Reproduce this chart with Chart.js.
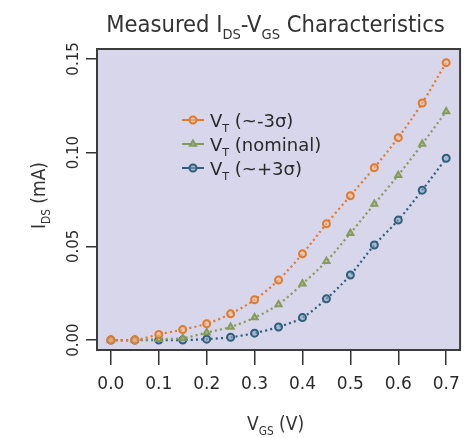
<!DOCTYPE html>
<html>
<head>
<meta charset="utf-8">
<script src="https://cdn.jsdelivr.net/npm/chart.js@4"></script>
<style>
  body { margin: 0; background: #fff; }
  #wrap { width: 469px; height: 438px; }
</style>
</head>
<body>
<div id="wrap"><canvas id="ivChart" width="469" height="438"></canvas></div>
<script>
// gate voltage sweep (V)
var vgs = [0.00, 0.05, 0.10, 0.15, 0.20, 0.25, 0.30, 0.35, 0.40, 0.45, 0.50, 0.55, 0.60, 0.65, 0.70];
// drain current (mA) for the three threshold corners
var idsMinus3s = [0.000, 0.000, 0.003, 0.0056, 0.0087, 0.014, 0.0215, 0.032, 0.046, 0.062, 0.077, 0.092, 0.108, 0.1265, 0.148];
var idsNominal = [0.000, 0.000, 0.0005, 0.001, 0.004, 0.007, 0.012, 0.019, 0.030, 0.042, 0.057, 0.0726, 0.088, 0.1046, 0.122];
var idsPlus3s  = [0.000, 0.000, 0.000, 0.000, 0.0005, 0.0015, 0.0037, 0.007, 0.012, 0.022, 0.0347, 0.0507, 0.064, 0.080, 0.097];
var xTicks = [0.0, 0.1, 0.2, 0.3, 0.4, 0.5, 0.6, 0.7];
var yTicks = [0.00, 0.05, 0.10, 0.15];

var seriesNames = [
    [['V'], ['T', 1], [' (~-3σ)']],
    [['V'], ['T', 1], [' (nominal)']],
    [['V'], ['T', 1], [' (~+3σ)']]
];

function toPts(ys) {
    return ys.map(function (y, i) { return { x: vgs[i], y: y }; });
}

// draws text with subscript parts
function richText(ctx, parts, x, y, size, family, align) {
    var w = 0;
    parts.forEach(function (p) {
        ctx.font = (p[1] ? size * 0.62 : size) + 'px ' + family;
        w += ctx.measureText(p[0]).width;
    });
    var cx = align === 'center' ? x - w / 2 : x;
    ctx.textBaseline = 'alphabetic';
    ctx.textAlign = 'left';
    parts.forEach(function (p) {
        ctx.font = (p[1] ? size * 0.62 : size) + 'px ' + family;
        ctx.fillText(p[0], cx, p[1] ? y + size * 0.28 : y);
        cx += ctx.measureText(p[0]).width;
    });
    return w;
}

var condensed = '"DejaVu Sans Condensed", "DejaVu Sans"';

var frameAndText = {
    id: 'frameAndText',
    beforeDraw: function (chart) {
        var a = chart.chartArea, ctx = chart.ctx;
        ctx.save();
        ctx.fillStyle = '#d8d6ea';
        ctx.fillRect(a.left, a.top, a.right - a.left, a.bottom - a.top);
        ctx.restore();
    },
    afterDraw: function (chart) {
        var a = chart.chartArea, ctx = chart.ctx;
        ctx.save();
        ctx.strokeStyle = '#3c3c3c';
        ctx.lineWidth = 2;
        ctx.strokeRect(a.left, a.top, a.right - a.left, a.bottom - a.top);

        ctx.fillStyle = '#333';
        var cxm = (a.left + a.right) / 2;
        richText(ctx, [['Measured I'], ['DS', 1], ['-V'], ['GS', 1], [' Characteristics']],
            cxm - 3, 32, 23.5, condensed, 'center');
        richText(ctx, [['V'], ['GS', 1], [' (V)']], cxm - 3, 430, 19, condensed, 'center');

        ctx.save();
        ctx.translate(45, (a.top + a.bottom) / 2 - 4);
        ctx.rotate(-Math.PI / 2);
        richText(ctx, [['I'], ['DS', 1], [' (mA)']], 0, 0, 19, condensed, 'center');
        ctx.restore();

        // legend
        var lx = 182, ly = 120, gap = 24;
        chart.data.datasets.forEach(function (ds, i) {
            var yy = ly + i * gap;
            ctx.strokeStyle = ds.borderColor;
            ctx.lineWidth = 2;
            ctx.setLineDash([]);
            ctx.beginPath();
            ctx.moveTo(lx, yy);
            ctx.lineTo(lx + 22, yy);
            ctx.stroke();
            ctx.fillStyle = ds.pointBackgroundColor;
            ctx.strokeStyle = ds.borderColor;
            ctx.lineWidth = 2;
            Chart.helpers.drawPoint(ctx, { pointStyle: ds.pointStyle, radius: 3.5, borderWidth: 2, rotation: 0 }, lx + 11, yy);
            ctx.fillStyle = '#2a2a2a';
            richText(ctx, seriesNames[i], lx + 28, yy + 7, 18, '"DejaVu Sans"', 'left');
        });
        ctx.restore();
    }
};

function mkSet(label, ys, col, fill, style) {
    return {
        label: label,
        data: toPts(ys),
        borderColor: col,
        backgroundColor: fill,
        pointBackgroundColor: fill,
        pointBorderColor: col,
        pointStyle: style,
        pointRadius: 3.5,
        pointBorderWidth: 2,
        borderWidth: 2.2,
        borderDash: [2, 3],
        tension: 0.3,
        fill: false
    };
}

var ctx = document.getElementById('ivChart').getContext('2d');
var ivChart = new Chart(ctx, {
    type: 'line',
    data: {
        datasets: [
            mkSet('VT (~-3σ)', idsMinus3s, '#e07a2c', 'rgba(240,190,150,0.6)', 'circle'),
            mkSet('VT (nominal)', idsNominal, '#869a5a', 'rgba(190,200,160,0.6)', 'triangle'),
            mkSet('VT (~+3σ)', idsPlus3s, '#2f5f7c', 'rgba(140,165,190,0.6)', 'circle')
        ]
    },
    options: {
        responsive: false,
        animation: false,
        layout: { padding: { top: 49, right: 8, left: 0, bottom: 0 } },
        scales: {
            x: {
                type: 'linear',
                min: -0.029,
                max: 0.729,
                afterFit: function (s) { s.height = 88; },
                afterBuildTicks: function (s) { s.ticks = xTicks.map(function (v) { return { value: v }; }); },
                border: { display: false },
                grid: { drawOnChartArea: false, drawTicks: true, tickLength: 15, color: '#333', lineWidth: 1.5 },
                ticks: {
                    padding: 9,
                    color: '#2a2a2a',
                    font: { family: '"DejaVu Sans"', size: 17 },
                    maxRotation: 0,
                    callback: function (v) { return v.toFixed(1); }
                }
            },
            y: {
                type: 'linear',
                min: -0.0053,
                max: 0.1553,
                afterFit: function (s) { s.width = 97; },
                afterBuildTicks: function (s) { s.ticks = yTicks.map(function (v) { return { value: v }; }); },
                border: { display: false },
                grid: { drawOnChartArea: false, drawTicks: true, tickLength: 11, color: '#333', lineWidth: 1.5 },
                ticks: {
                    padding: -5,
                    crossAlign: 'center',
                    minRotation: 90,
                    maxRotation: 90,
                    color: '#2a2a2a',
                    font: { family: '"DejaVu Sans"', size: 15 },
                    callback: function (v) { return v.toFixed(2); }
                }
            }
        },
        plugins: {
            legend: { display: false },
            title: { display: false },
            tooltip: { enabled: false }
        }
    },
    plugins: [frameAndText]
});
</script>
</body>
</html>
